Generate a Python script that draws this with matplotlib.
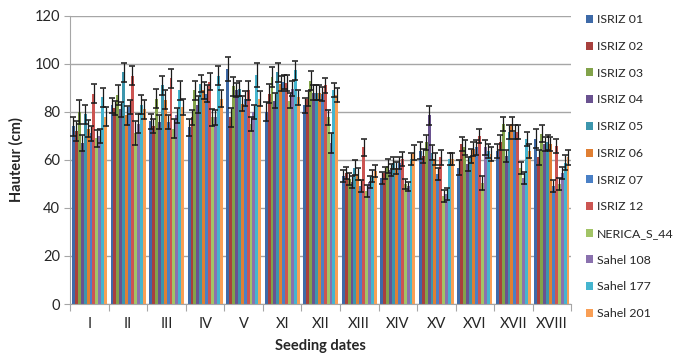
import numpy as np
import matplotlib
matplotlib.use('Agg')
import matplotlib.pyplot as plt

plt.rcParams['font.family'] = ['Lato', 'DejaVu Sans']

dates = ['I', 'II', 'III', 'IV', 'V', 'XI', 'XII', 'XIII', 'XIV', 'XV', 'XVI', 'XVII', 'XVIII']
names = ['ISRIZ 01', 'ISRIZ 02', 'ISRIZ 03', 'ISRIZ 04', 'ISRIZ 05', 'ISRIZ 06',
         'ISRIZ 07', 'ISRIZ 12', 'NERICA_S_44', 'Sahel 108', 'Sahel 177', 'Sahel 201']

isriz01 = [74, 82.7, 76, 73.5, 98, 80, 82.7, 53.3, 52.6, 63.8, 56.8, 63.8, 68.8]
isriz02 = [72, 81.7, 74, 77.7, 77.7, 87.6, 85.5, 54.7, 54.7, 61.7, 66.6, 67.3, 61]
isriz03 = [80, 87, 85.5, 89, 90.6, 94.5, 93, 52, 57.5, 67.3, 65.2, 75, 70.9]
isriz04 = [67, 81, 75.7, 83, 89, 84.7, 88, 51, 56, 78.5, 58.3, 61.7, 66.6]
isriz05 = [79, 96.5, 91, 91.8, 89.7, 96.5, 88, 56.8, 58.9, 63, 61.7, 71.5, 67.3]
isriz06 = [73, 78.5, 85, 89, 83.4, 91.8, 88, 54, 56.8, 60.3, 64.5, 75, 66.6]
isriz07 = [71, 82, 75.7, 87.5, 85.5, 92.5, 87.5, 49, 58.9, 54, 65.2, 71.5, 49]
isriz12 = [87.6, 95, 94, 92.5, 89, 92, 91, 65.2, 60.3, 61, 70, 71.5, 65.9]
nerica = [69, 71, 73, 77.7, 75, 84.7, 77.7, 47, 50, 45, 50.5, 56.8, 50]
sahel108 = [70, 75, 78.5, 77.7, 80, 89.7, 67, 51, 49, 45.7, 65.2, 52.6, 54.7]
sahel177 = [86, 83, 89, 95, 95.3, 97.3, 89, 53.3, 60.4, 60.4, 63.8, 68.8, 58.9]
sahel201 = [78, 81, 82, 85.5, 85.5, 86, 87, 55.4, 63, 60.4, 62.4, 63.8, 61]

# error bar half-lengths (estimated)
err01 = [4, 3, 3, 3.5, 5, 4, 3, 2.5, 2.5, 3.5, 3, 3, 4]
err02 = [4, 3, 3, 3, 4, 4, 3, 2.5, 2.5, 3, 3, 3, 3]
err03 = [5, 4, 4, 4, 4, 4, 4, 2.5, 3, 3, 3, 3, 3.5]
err04 = [3.5, 3, 3, 3.5, 3, 3, 3, 2.5, 2.5, 4, 3, 2.5, 3]
err05 = [4, 4, 4, 3.5, 3, 4, 3, 3, 2.5, 3, 3, 3, 3]
err06 = [3.5, 4, 4, 3.5, 3, 3, 3, 2.5, 2.5, 2.5, 3, 3, 3]
err07 = [3, 3, 3, 3.5, 3, 3, 3, 2.5, 2.5, 2.5, 3, 3, 2.5]
err12 = [4, 4, 4, 3.5, 4, 3.5, 3, 3.5, 3, 3, 3, 3, 3]
err44 = [3.5, 5, 4, 3.5, 3, 3, 3, 2.5, 2, 2.5, 3, 2.5, 2.5]
err108 = [3, 4, 3, 3, 3, 3, 4, 2.5, 2, 2.5, 3, 2.5, 2.5]
err177 = [4, 4, 4, 4, 5, 4, 3, 2.5, 2.5, 2.5, 3, 3, 3]
err201 = [4, 4, 3.5, 3.5, 3, 3, 3, 2.5, 3, 2.5, 3, 3, 3]

series = [isriz01, isriz02, isriz03, isriz04, isriz05, isriz06,
          isriz07, isriz12, nerica, sahel108, sahel177, sahel201]
errors = [err01, err02, err03, err04, err05, err06,
          err07, err12, err44, err108, err177, err201]
colors = ['#3E6AA8', '#A8403D', '#82A34A', '#6A5290', '#3C96AD', '#E07F33',
          '#4A80C6', '#CC5552', '#A2C466', '#8A71AE', '#45B5CF', '#F99F55']

fig = plt.figure(figsize=(6.76, 3.63), dpi=100)
ax = fig.add_axes([0.104, 0.1625, 0.741, 0.794])

x = np.arange(len(dates))
n = len(series)
w = 0.91 / n
for i in range(n):
    pos = x - 0.455 + w * (i + 0.5)
    ax.bar(pos, series[i], w, color=colors[i], label=names[i], zorder=2)
    ax.errorbar(pos, series[i], yerr=errors[i], fmt='none', ecolor='#1a1a1a',
                elinewidth=0.9, capsize=2.2, capthick=1.1, zorder=3)

ax.set_xlim(-0.5, len(dates) - 0.5)
ax.set_ylim(0, 120)
ax.set_yticks(range(0, 121, 20))
ax.yaxis.grid(True, color='#A6A6A6', linewidth=1, zorder=0)
ax.set_axisbelow(True)

ax.set_xticks(np.arange(len(dates) + 1) - 0.5)
ax.set_xticklabels([])
ax.set_xticks(x, minor=True)
ax.set_xticklabels(dates, minor=True)
ax.tick_params(axis='x', which='major', length=5, color='#A6A6A6')
ax.tick_params(axis='x', which='minor', length=0, pad=9, labelsize=10.5, labelcolor='#262626')
ax.tick_params(axis='y', length=4, color='#A6A6A6', labelsize=10.5, labelcolor='#262626')

for s in ['top', 'right']:
    ax.spines[s].set_visible(False)
for s in ['left', 'bottom']:
    ax.spines[s].set_color('#A6A6A6')

ax.set_xlabel('Seeding dates', fontsize=10.5, fontweight='bold', color='#262626', labelpad=6)
ax.set_ylabel('Hauteur (cm)', fontsize=10.5, fontweight='bold', color='#262626', labelpad=8)

fig.legend(loc='upper left', bbox_to_anchor=(0.859, 0.974), frameon=False,
           fontsize=8.9, handlelength=0.62, handleheight=0.62, handletextpad=0.3,
           labelspacing=1.27, borderaxespad=0, labelcolor='#262626')

fig.savefig('out.png', dpi=100)
